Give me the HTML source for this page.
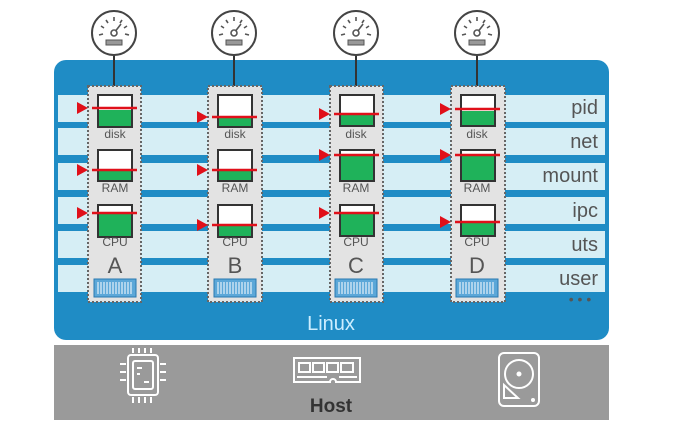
<!DOCTYPE html><html><head><style>body{margin:0;background:#fff}svg{display:block}text{font-family:"Liberation Sans",sans-serif}</style></head><body>
<svg width="695" height="431" viewBox="0 0 695 431" xmlns="http://www.w3.org/2000/svg">
<defs>
<g id="gauge"><circle r="22" fill="#fff" stroke="#444" stroke-width="2"/>
<g stroke="#555" stroke-width="1.6"><line x1="-15" y1="2" x2="-11" y2="1"/><line x1="-13" y1="-7" x2="-10" y2="-5"/><line x1="-8" y1="-13" x2="-6" y2="-10"/><line x1="0" y1="-16" x2="0" y2="-12"/><line x1="8" y1="-13" x2="6" y2="-10"/><line x1="13" y1="-7" x2="10" y2="-5"/><line x1="15" y1="2" x2="11" y2="1"/><line x1="0" y1="0" x2="7" y2="-9"/></g>
<circle r="3" fill="#fff" stroke="#555" stroke-width="1.6"/><rect x="-8" y="7" width="16" height="5" fill="#999" stroke="#555"/></g>
<g id="bar"><rect x="0" y="0" width="42" height="18" fill="#5ba7d8" stroke="#2a79b0"/>
<path d="M4 3v12M7 3v12M10 3v12M13 3v12M16 3v12M19 3v12M22 3v12M25 3v12M28 3v12M31 3v12M34 3v12M37 3v12" stroke="#fff" stroke-width="1"/></g>
</defs>
<rect x="54" y="60" width="555" height="280" rx="12" fill="#1f8cc5"/>
<g fill="#d6eef5">
<rect x="58" y="95" width="547" height="27"/><rect x="58" y="128" width="547" height="27"/><rect x="58" y="163" width="547" height="27"/><rect x="58" y="197" width="547" height="27"/><rect x="58" y="231" width="547" height="27"/><rect x="58" y="265" width="547" height="27"/>
</g>
<g font-size="20" fill="#555" text-anchor="end">
<text x="598" y="114">pid</text><text x="598" y="148">net</text><text x="598" y="182">mount</text><text x="598" y="217">ipc</text><text x="598" y="251">uts</text><text x="598" y="285">user</text>
</g>
<text x="580" y="304" font-size="14" fill="#555" text-anchor="middle">• • •</text>
<text x="331" y="330" font-size="20" fill="#cdeeff" text-anchor="middle">Linux</text>

<!-- containers -->
<g id="cont">
</g>
<g font-size="12" fill="#555" text-anchor="middle">
<!-- A -->
<line x1="114" y1="55" x2="114" y2="95" stroke="#333" stroke-width="2"/>
<rect x="88" y="86" width="53" height="216" fill="#e3e3e3" stroke="#666" stroke-width="2" stroke-dasharray="2,2"/>
<rect x="98" y="95" width="34" height="32" fill="#fff" stroke="#333" stroke-width="2"/><rect x="99" y="110" width="32" height="16" fill="#1fb25a"/>
<rect x="98" y="150" width="34" height="31" fill="#fff" stroke="#333" stroke-width="2"/><rect x="99" y="170" width="32" height="10" fill="#1fb25a"/>
<rect x="98" y="205" width="34" height="32" fill="#fff" stroke="#333" stroke-width="2"/><rect x="99" y="214" width="32" height="22" fill="#1fb25a"/>
<g stroke="#e0101a" stroke-width="2.5"><line x1="92" y1="108" x2="137" y2="108"/><line x1="92" y1="170" x2="137" y2="170"/><line x1="92" y1="213" x2="137" y2="213"/></g>
<g fill="#e0101a"><path d="M77 102l11 6-11 6z"/><path d="M77 164l11 6-11 6z"/><path d="M77 207l11 6-11 6z"/></g>
<text x="115" y="138">disk</text><text x="115" y="192">RAM</text><text x="115" y="246">CPU</text><text x="115" y="273" font-size="22">A</text>
<use href="#bar" x="94" y="279"/><use href="#gauge" x="114" y="33"/>
<!-- B -->
<line x1="234" y1="55" x2="234" y2="95" stroke="#333" stroke-width="2"/>
<rect x="208" y="86" width="54" height="216" fill="#e3e3e3" stroke="#666" stroke-width="2" stroke-dasharray="2,2"/>
<rect x="218" y="95" width="34" height="32" fill="#fff" stroke="#333" stroke-width="2"/><rect x="219" y="117" width="32" height="9" fill="#1fb25a"/>
<rect x="218" y="150" width="34" height="31" fill="#fff" stroke="#333" stroke-width="2"/><rect x="219" y="170" width="32" height="10" fill="#1fb25a"/>
<rect x="218" y="205" width="34" height="32" fill="#fff" stroke="#333" stroke-width="2"/><rect x="219" y="225" width="32" height="11" fill="#1fb25a"/>
<g stroke="#e0101a" stroke-width="2.5"><line x1="212" y1="117" x2="257" y2="117"/><line x1="212" y1="170" x2="257" y2="170"/><line x1="212" y1="225" x2="257" y2="225"/></g>
<g fill="#e0101a"><path d="M197 111l11 6-11 6z"/><path d="M197 164l11 6-11 6z"/><path d="M197 219l11 6-11 6z"/></g>
<text x="235" y="138">disk</text><text x="235" y="192">RAM</text><text x="235" y="246">CPU</text><text x="235" y="273" font-size="22">B</text>
<use href="#bar" x="214" y="279"/><use href="#gauge" x="234" y="33"/>
<!-- C -->
<line x1="356" y1="55" x2="356" y2="95" stroke="#333" stroke-width="2"/>
<rect x="330" y="86" width="53" height="216" fill="#e3e3e3" stroke="#666" stroke-width="2" stroke-dasharray="2,2"/>
<rect x="340" y="95" width="34" height="31" fill="#fff" stroke="#333" stroke-width="2"/><rect x="341" y="114" width="32" height="11" fill="#1fb25a"/>
<rect x="340" y="150" width="34" height="31" fill="#fff" stroke="#333" stroke-width="2"/><rect x="341" y="154" width="32" height="26" fill="#1fb25a"/>
<rect x="340" y="205" width="34" height="31" fill="#fff" stroke="#333" stroke-width="2"/><rect x="341" y="213" width="32" height="22" fill="#1fb25a"/>
<g stroke="#e0101a" stroke-width="2.5"><line x1="334" y1="114" x2="379" y2="114"/><line x1="334" y1="155" x2="379" y2="155"/><line x1="334" y1="213" x2="379" y2="213"/></g>
<g fill="#e0101a"><path d="M319 108l11 6-11 6z"/><path d="M319 149l11 6-11 6z"/><path d="M319 207l11 6-11 6z"/></g>
<text x="356" y="138">disk</text><text x="356" y="192">RAM</text><text x="356" y="246">CPU</text><text x="356" y="273" font-size="22">C</text>
<use href="#bar" x="335" y="279"/><use href="#gauge" x="356" y="33"/>
<!-- D -->
<line x1="477" y1="55" x2="477" y2="95" stroke="#333" stroke-width="2"/>
<rect x="451" y="86" width="54" height="216" fill="#e3e3e3" stroke="#666" stroke-width="2" stroke-dasharray="2,2"/>
<rect x="461" y="95" width="34" height="31" fill="#fff" stroke="#333" stroke-width="2"/><rect x="462" y="111" width="32" height="14" fill="#1fb25a"/>
<rect x="461" y="150" width="34" height="31" fill="#fff" stroke="#333" stroke-width="2"/><rect x="462" y="154" width="32" height="26" fill="#1fb25a"/>
<rect x="461" y="205" width="34" height="31" fill="#fff" stroke="#333" stroke-width="2"/><rect x="462" y="222" width="32" height="13" fill="#1fb25a"/>
<g stroke="#e0101a" stroke-width="2.5"><line x1="455" y1="109" x2="500" y2="109"/><line x1="455" y1="155" x2="500" y2="155"/><line x1="455" y1="222" x2="500" y2="222"/></g>
<g fill="#e0101a"><path d="M440 103l11 6-11 6z"/><path d="M440 149l11 6-11 6z"/><path d="M440 216l11 6-11 6z"/></g>
<text x="477" y="138">disk</text><text x="477" y="192">RAM</text><text x="477" y="246">CPU</text><text x="477" y="273" font-size="22">D</text>
<use href="#bar" x="456" y="279"/><use href="#gauge" x="477" y="33"/>
</g>

<!-- host -->
<rect x="54" y="345" width="555" height="75" fill="#9a9a9a"/>
<g stroke="#fff" stroke-width="2" fill="none">
<rect x="128" y="355" width="30" height="40" rx="3"/><rect x="133" y="361" width="20" height="28" rx="2"/>
<path d="M133 353v-5M139 353v-5M145 353v-5M151 353v-5M133 397v6M139 397v6M145 397v6M151 397v6M126 364h-6M126 372h-6M126 380h-6M160 364h6M160 372h6M160 380h6"/>
<path d="M137 368h5M137 374h3M144 382h5"/>
<path d="M294 358h66v24h-24a3 3 0 0 0-6 0h-36z"/><rect x="299" y="363" width="11" height="9"/><rect x="313" y="363" width="11" height="9"/><rect x="327" y="363" width="11" height="9"/><rect x="341" y="363" width="12" height="9"/>
<path d="M297 377h30M339 377h18"/>
<rect x="499" y="353" width="40" height="53" rx="5"/><circle cx="519" cy="374" r="14"/><circle cx="519" cy="374" r="1.5" fill="#fff"/>
<path d="M504 385l14 13h-14z"/><circle cx="533" cy="400" r="1" fill="#fff"/>
</g>
<text x="331" y="412" font-size="19" font-weight="bold" fill="#333" text-anchor="middle">Host</text>
</svg></body></html>
